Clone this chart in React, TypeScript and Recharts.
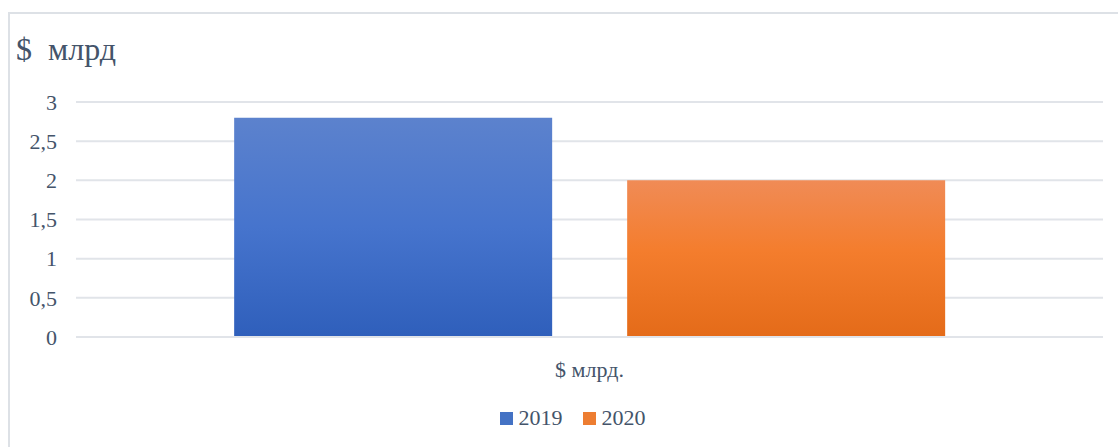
import React from 'react';
import { BarChart, Bar, XAxis, YAxis, CartesianGrid, Legend } from 'recharts';

const categories = ['$ млрд.'];
const series2019 = [2.8];
const series2020 = [2.0];
const yTicks = [0, 0.5, 1, 1.5, 2, 2.5, 3];
const seriesNames = ['2019', '2020'];
const seriesColors = ['#4472c4', '#ed7d31'];

const data = categories.map((c, i) => ({ name: c, s2019: series2019[i], s2020: series2020[i] }));

const TEXT = '#44546A';
const FONT = '"Liberation Serif", "Times New Roman", serif';
const GRID = '#e1e4e9';

const fmt = (v: number) => String(v).replace('.', ',');

const LegendContent = (props: any) => {
  const items = props.payload || [];
  return (
    <div style={{ display: 'flex', justifyContent: 'center', alignItems: 'center', fontFamily: FONT, fontSize: 22, color: TEXT, lineHeight: '26px', transform: 'translateX(16px)' }}>
      {items.map((it: any, i: number) => (
        <div key={i} style={{ display: 'flex', alignItems: 'center', marginRight: i === 0 ? 20 : 0 }}>
          <span style={{ display: 'inline-block', width: 13, height: 13, background: seriesColors[i], marginRight: 6 }} />
          <span>{it.value}</span>
        </div>
      ))}
    </div>
  );
};

export default function App() {
  return (
    <div style={{ position: 'absolute', left: 8, top: 12, width: 1110, height: 435, boxSizing: 'border-box', borderTop: '2px solid #dde1e6', borderLeft: '2px solid #dde1e6', background: '#fff' }}>
      <div style={{ position: 'absolute', left: 6, top: 17, fontFamily: FONT, fontSize: 32, color: TEXT, whiteSpace: 'pre', lineHeight: '36px' }}>$  млрд</div>
      <BarChart width={1108} height={433} data={data} margin={{ top: 88, right: 15, left: 0, bottom: 16 }} barCategoryGap="15.4%" barGap={75}>
        <defs>
          <linearGradient id="g2019" x1="0" y1="0" x2="0" y2="1">
            <stop offset="0%" stopColor="#5c82cd" />
            <stop offset="50%" stopColor="#4674cd" />
            <stop offset="100%" stopColor="#2f5fbb" />
          </linearGradient>
          <linearGradient id="g2020" x1="0" y1="0" x2="0" y2="1">
            <stop offset="0%" stopColor="#f08b56" />
            <stop offset="45%" stopColor="#f47d2d" />
            <stop offset="100%" stopColor="#e46b19" />
          </linearGradient>
        </defs>
        <CartesianGrid vertical={false} stroke={GRID} strokeWidth={2} />
        <XAxis dataKey="name" height={68} tickLine={false} axisLine={{ stroke: GRID, strokeWidth: 2 }} tickMargin={18}
          tick={{ fill: TEXT, fontSize: 22, fontFamily: FONT }} />
        <YAxis width={66} domain={[0, 3]} ticks={yTicks} tickFormatter={fmt} axisLine={false} tickLine={false} tickMargin={13}
          tick={{ fill: TEXT, fontSize: 22, fontFamily: FONT }} />
        <Legend verticalAlign="bottom" height={26} content={<LegendContent />} />
        <Bar dataKey="s2019" name={seriesNames[0]} fill="url(#g2019)" isAnimationActive={false} />
        <Bar dataKey="s2020" name={seriesNames[1]} fill="url(#g2020)" isAnimationActive={false} />
      </BarChart>
    </div>
  );
}
